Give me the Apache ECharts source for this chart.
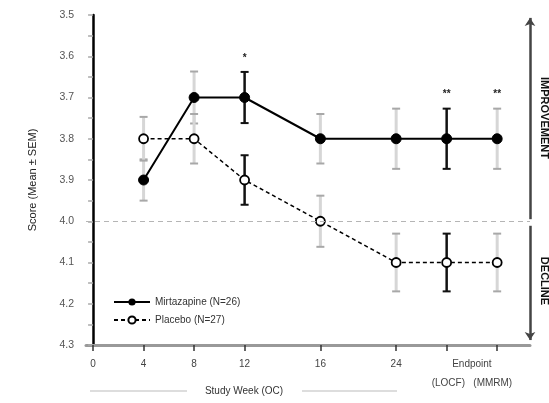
<!DOCTYPE html>
<html>
<head>
<meta charset="utf-8">
<script src="https://cdn.jsdelivr.net/npm/echarts@6/dist/echarts.min.js"></script>
<style>
  html, body { margin: 0; padding: 0; background: #fff; }
  #chart { width: 549px; height: 403px; }
</style>
</head>
<body>
<div id="chart"></div>
<script>
// Visit positions along the x axis (evenly spaced slots, wider gaps after week 12)
const slots = [0, 1, 2, 3, 4.5, 6, 7, 8];
const weekLabels = ['0', '4', '8', '12', '16', '24'];
const endpointLabel = 'Endpoint\n(LOCF)   (MMRM)';
const endpointSlot = 7.5;

// Visits with data (week 4 onward)
const dataSlots = [1, 2, 3, 4.5, 6, 7, 8];

const mirtName = 'Mirtazapine (N=26)';
const mirtMean = [3.9, 3.7, 3.7, 3.8, 3.8, 3.8, 3.8];
const mirtSem = [0.05, 0.063, 0.062, 0.06, 0.073, 0.073, 0.073];

const placName = 'Placebo (N=27)';
const placMean = [3.8, 3.8, 3.9, 4.0, 4.1, 4.1, 4.1];
const placSem = [0.053, 0.06, 0.06, 0.062, 0.07, 0.07, 0.07];

// Visits whose error bars are drawn in black
const highlighted = [false, false, true, false, false, true, false];
// Significance marks above the mirtazapine bars
const mirtStars = ['', '', '*', '', '', '**', '**'];

const yTicks = [3.5, 3.6, 3.7, 3.8, 3.9, 4.0, 4.1, 4.2, 4.3];
const baseline = 4.0;

const chart = echarts.init(document.getElementById('chart'), null, { renderer: 'canvas' });

function errorData(means, sems, stars) {
  return dataSlots.map((s, i) => [s, means[i], sems[i], highlighted[i] ? 1 : 0, stars ? stars[i] : '']);
}

function renderErrorBar(params, api) {
  const x = api.value(0), m = api.value(1), s = api.value(2), dark = api.value(3);
  const star = api.value(4);
  const top = api.coord([x, m - s]);
  const bot = api.coord([x, m + s]);
  const stem = dark ? '#111' : '#d6d6d6';
  const cap = dark ? '#111' : '#a8a8a8';
  const w = 4;
  const children = [
    { type: 'line', shape: { x1: top[0], y1: top[1], x2: bot[0], y2: bot[1] },
      style: { stroke: stem, lineWidth: dark ? 2.5 : 3 } },
    { type: 'line', shape: { x1: top[0] - w, y1: top[1], x2: top[0] + w, y2: top[1] },
      style: { stroke: cap, lineWidth: 2 } },
    { type: 'line', shape: { x1: bot[0] - w, y1: bot[1], x2: bot[0] + w, y2: bot[1] },
      style: { stroke: cap, lineWidth: 2 } }
  ];
  if (star && star !== '-') {
    children.push({ type: 'text', x: top[0], y: top[1] - 14,
      style: { text: String(star), fill: '#222', font: 'bold 10px "Liberation Sans", Arial',
               align: 'center', verticalAlign: 'middle' } });
  }
  return { type: 'group', children };
}

const font = '"Liberation Sans", Arial, sans-serif';

chart.setOption({
  animation: false,
  backgroundColor: '#fff',
  grid: { left: 86, right: 19, top: 15, bottom: 58 },
  legend: {
    orient: 'vertical', left: 108, top: 292, itemGap: 8,
    itemWidth: 36, itemHeight: 9,
    textStyle: { fontFamily: font, fontSize: 10, color: '#333' },
    data: [mirtName, placName]
  },
  xAxis: {
    type: 'value', min: -0.14, max: 8.65,
    splitLine: { show: false },
    axisLine: { lineStyle: { color: '#999', width: 3 } },
    axisTick: { show: true, customValues: slots, length: 6, lineStyle: { color: '#333', width: 1.5 } },
    axisLabel: {
      customValues: slots.slice(0, weekLabels.length).concat([endpointSlot]),
      formatter: v => {
        const i = slots.indexOf(v);
        return i >= 0 && i < weekLabels.length ? weekLabels[i] : endpointLabel;
      },
      margin: 10, fontFamily: font, fontSize: 10, color: '#444', lineHeight: 19
    }
  },
  yAxis: {
    type: 'value', inverse: true, min: 3.5, max: 4.3, interval: 0.1,
    name: 'Score (Mean \u00B1 SEM)', nameLocation: 'middle', nameGap: 48,
    nameTextStyle: { fontFamily: font, fontSize: 11, color: '#222' },
    splitLine: { show: false },
    axisLine: { show: true, lineStyle: { color: '#000', width: 2.5 } },
    axisTick: { show: true, length: 5, lineStyle: { color: '#aaa', width: 1.5 } },
    minorTick: { show: true, splitNumber: 2, length: 5, lineStyle: { color: '#aaa', width: 1.5 } },
    axisLabel: {
      formatter: v => yTicks.some(t => Math.abs(t - v) < 1e-6) ? v.toFixed(1) : '',
      fontFamily: font, fontSize: 10.5, color: '#555', margin: 12
    }
  },
  series: [
    {
      type: 'custom', name: 'mirtErr', renderItem: renderErrorBar, z: 1,
      data: errorData(mirtMean, mirtSem, mirtStars), silent: true
    },
    {
      type: 'custom', name: 'placErr', renderItem: renderErrorBar, z: 1,
      data: errorData(placMean, placSem, null), silent: true
    },
    {
      type: 'line', name: placName, z: 3, clip: false,
      data: dataSlots.map((s, i) => [s, placMean[i]]),
      symbol: 'circle', symbolSize: 9,
      itemStyle: { color: '#fff', borderColor: '#000', borderWidth: 1.8 },
      lineStyle: { color: '#000', width: 1.5, type: [4, 3] },
      markLine: {
        silent: true, symbol: ['none', 'none'],
        label: { show: false },
        lineStyle: { color: '#b5b5b5', width: 1, type: [5, 4] },
        data: [{ yAxis: baseline }]
      }
    },
    {
      type: 'line', name: mirtName, z: 4, clip: false,
      data: dataSlots.map((s, i) => [s, mirtMean[i]]),
      symbol: 'circle', symbolSize: 10,
      itemStyle: { color: '#000', borderColor: '#000' },
      lineStyle: { color: '#000', width: 2 },
      markLine: {
        silent: true, symbol: ['none', 'arrow'], symbolSize: [8, 8],
        label: { show: false },
        lineStyle: { color: '#444', width: 2.5, type: 'solid' },
        data: [
          [{ coord: [8.65, 3.995] }, { coord: [8.65, 3.507] }],
          [{ coord: [8.65, 4.011] }, { coord: [8.65, 4.288] }]
        ]
      }
    }
  ],
  graphic: [
    { type: 'text', x: 544, y: 118, rotation: -Math.PI / 2,
      style: { text: 'IMPROVEMENT', fill: '#111', font: 'bold 11px ' + font, align: 'center', verticalAlign: 'middle' } },
    { type: 'text', x: 544, y: 281, rotation: -Math.PI / 2,
      style: { text: 'DECLINE', fill: '#111', font: 'bold 11px ' + font, align: 'center', verticalAlign: 'middle' } },
    { type: 'line', shape: { x1: 90, y1: 391, x2: 187, y2: 391 }, style: { stroke: '#bbb', lineWidth: 1 } },
    { type: 'line', shape: { x1: 302, y1: 391, x2: 397, y2: 391 }, style: { stroke: '#bbb', lineWidth: 1 } },
    { type: 'text', x: 244, y: 391,
      style: { text: 'Study Week (OC)', fill: '#333', font: '10px ' + font, align: 'center', verticalAlign: 'middle' } }
  ]
});
</script>
</body>
</html>
